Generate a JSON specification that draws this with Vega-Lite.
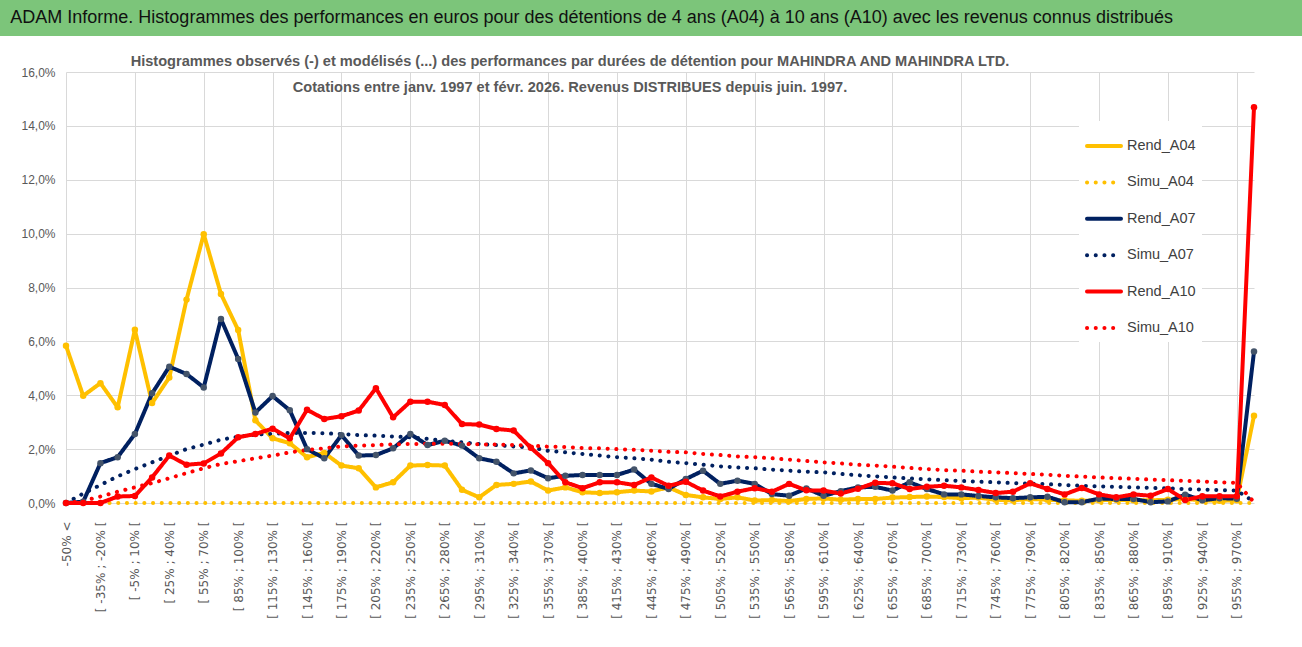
{
  "$schema": "https://vega.github.io/schema/vega-lite/v6.json",
  "padding": 0,
  "background": "white",
  "spacing": 18,
  "config": {
    "view": {"stroke": null},
    "font": "Liberation Sans",
    "legend": {
      "orient": "none",
      "legendX": 1079,
      "legendY": 121,
      "title": null,
      "fillColor": "white",
      "padding": 6,
      "symbolType": "stroke",
      "symbolSize": 1156,
      "symbolStrokeWidth": 4,
      "labelFontSize": 14.5,
      "labelColor": "#404040",
      "labelOffset": 4,
      "rowPadding": 9.4
    }
  },
  "vconcat": [
    {
      "width": 1302,
      "height": 36,
      "view": {"fill": "#7cc57a", "stroke": null},
      "data": {"values": [{"texte": "ADAM Informe. Histogrammes des performances en euros pour des détentions de 4 ans (A04) à 10 ans (A10) avec les revenus connus distribués", "pos": 0}]},
      "mark": {"type": "text", "align": "left", "baseline": "middle", "fontSize": 18, "color": "#111111"},
      "encoding": {
        "x": {"field": "pos", "type": "quantitative", "scale": {"domain": [-0.008, 1]}, "axis": null},
        "text": {"field": "texte"}
      }
    },
    {
      "width": 1302,
      "height": 431,
      "title": {
        "text": [
          "Histogrammes observés (-) et modélisés (...) des performances par durées de détention pour MAHINDRA AND MAHINDRA LTD.",
          "Cotations entre janv. 1997 et févr. 2026. Revenus DISTRIBUES depuis juin. 1997."
        ],
        "fontSize": 14.6,
        "fontWeight": "bold",
        "color": "#595959",
        "anchor": "middle",
        "dx": -81,
        "offset": -29,
        "lineHeight": 26
      },
      "data": {
        "values": [
          {"t": "-50% <", "Rend_A04": 5.84, "Simu_A04": 0, "Rend_A07": 0, "Simu_A07": 0, "Rend_A10": 0, "Simu_A10": 0},
          {"t": "[ -50% ; -35% [", "Rend_A04": 3.98, "Simu_A04": 0, "Rend_A07": 0.05, "Simu_A07": 0.35, "Rend_A10": 0, "Simu_A10": 0.08},
          {"t": "[ -35% ; -20% [", "Rend_A04": 4.45, "Simu_A04": 0, "Rend_A07": 1.48, "Simu_A07": 0.67, "Rend_A10": 0, "Simu_A10": 0.24},
          {"t": "[ -20% ; -5% [", "Rend_A04": 3.55, "Simu_A04": 0, "Rend_A07": 1.70, "Simu_A07": 0.99, "Rend_A10": 0.24, "Simu_A10": 0.42},
          {"t": "[ -5% ; 10% [", "Rend_A04": 6.43, "Simu_A04": 0, "Rend_A07": 2.56, "Simu_A07": 1.26, "Rend_A10": 0.26, "Simu_A10": 0.58},
          {"t": "[ 10% ; 25% [", "Rend_A04": 3.71, "Simu_A04": 0, "Rend_A07": 4.07, "Simu_A07": 1.51, "Rend_A10": 0.95, "Simu_A10": 0.74},
          {"t": "[ 25% ; 40% [", "Rend_A04": 4.66, "Simu_A04": 0, "Rend_A07": 5.06, "Simu_A07": 1.76, "Rend_A10": 1.76, "Simu_A10": 0.92},
          {"t": "[ 40% ; 55% [", "Rend_A04": 7.55, "Simu_A04": 0, "Rend_A07": 4.79, "Simu_A07": 2.00, "Rend_A10": 1.42, "Simu_A10": 1.11},
          {"t": "[ 55% ; 70% [", "Rend_A04": 9.98, "Simu_A04": 0, "Rend_A07": 4.29, "Simu_A07": 2.17, "Rend_A10": 1.47, "Simu_A10": 1.29},
          {"t": "[ 70% ; 85% [", "Rend_A04": 7.76, "Simu_A04": 0, "Rend_A07": 6.83, "Simu_A07": 2.35, "Rend_A10": 1.84, "Simu_A10": 1.45},
          {"t": "[ 85% ; 100% [", "Rend_A04": 6.42, "Simu_A04": 0, "Rend_A07": 5.35, "Simu_A07": 2.46, "Rend_A10": 2.44, "Simu_A10": 1.55},
          {"t": "[ 100% ; 115% [", "Rend_A04": 3.07, "Simu_A04": 0, "Rend_A07": 3.36, "Simu_A07": 2.54, "Rend_A10": 2.56, "Simu_A10": 1.66},
          {"t": "[ 115% ; 130% [", "Rend_A04": 2.40, "Simu_A04": 0, "Rend_A07": 3.97, "Simu_A07": 2.57, "Rend_A10": 2.76, "Simu_A10": 1.76},
          {"t": "[ 130% ; 145% [", "Rend_A04": 2.22, "Simu_A04": 0, "Rend_A07": 3.44, "Simu_A07": 2.60, "Rend_A10": 2.40, "Simu_A10": 1.88},
          {"t": "[ 145% ; 160% [", "Rend_A04": 1.70, "Simu_A04": 0, "Rend_A07": 2.00, "Simu_A07": 2.60, "Rend_A10": 3.46, "Simu_A10": 1.97},
          {"t": "[ 160% ; 175% [", "Rend_A04": 1.86, "Simu_A04": 0, "Rend_A07": 1.66, "Simu_A07": 2.59, "Rend_A10": 3.12, "Simu_A10": 2.03},
          {"t": "[ 175% ; 190% [", "Rend_A04": 1.39, "Simu_A04": 0, "Rend_A07": 2.52, "Simu_A07": 2.56, "Rend_A10": 3.22, "Simu_A10": 2.10},
          {"t": "[ 190% ; 205% [", "Rend_A04": 1.29, "Simu_A04": 0, "Rend_A07": 1.76, "Simu_A07": 2.52, "Rend_A10": 3.43, "Simu_A10": 2.13},
          {"t": "[ 205% ; 220% [", "Rend_A04": 0.58, "Simu_A04": 0, "Rend_A07": 1.78, "Simu_A07": 2.50, "Rend_A10": 4.26, "Simu_A10": 2.15},
          {"t": "[ 220% ; 235% [", "Rend_A04": 0.77, "Simu_A04": 0, "Rend_A07": 2.03, "Simu_A07": 2.47, "Rend_A10": 3.18, "Simu_A10": 2.18},
          {"t": "[ 235% ; 250% [", "Rend_A04": 1.39, "Simu_A04": 0, "Rend_A07": 2.56, "Simu_A07": 2.44, "Rend_A10": 3.76, "Simu_A10": 2.19},
          {"t": "[ 250% ; 265% [", "Rend_A04": 1.41, "Simu_A04": 0, "Rend_A07": 2.15, "Simu_A07": 2.38, "Rend_A10": 3.76, "Simu_A10": 2.20},
          {"t": "[ 265% ; 280% [", "Rend_A04": 1.39, "Simu_A04": 0, "Rend_A07": 2.31, "Simu_A07": 2.31, "Rend_A10": 3.64, "Simu_A10": 2.20},
          {"t": "[ 280% ; 295% [", "Rend_A04": 0.49, "Simu_A04": 0, "Rend_A07": 2.13, "Simu_A07": 2.25, "Rend_A10": 2.93, "Simu_A10": 2.19},
          {"t": "[ 295% ; 310% [", "Rend_A04": 0.21, "Simu_A04": 0, "Rend_A07": 1.66, "Simu_A07": 2.19, "Rend_A10": 2.91, "Simu_A10": 2.18},
          {"t": "[ 310% ; 325% [", "Rend_A04": 0.67, "Simu_A04": 0, "Rend_A07": 1.53, "Simu_A07": 2.15, "Rend_A10": 2.75, "Simu_A10": 2.17},
          {"t": "[ 325% ; 340% [", "Rend_A04": 0.71, "Simu_A04": 0, "Rend_A07": 1.10, "Simu_A07": 2.10, "Rend_A10": 2.69, "Simu_A10": 2.15},
          {"t": "[ 340% ; 355% [", "Rend_A04": 0.80, "Simu_A04": 0, "Rend_A07": 1.21, "Simu_A07": 2.06, "Rend_A10": 2.05, "Simu_A10": 2.13},
          {"t": "[ 355% ; 370% [", "Rend_A04": 0.46, "Simu_A04": 0, "Rend_A07": 0.92, "Simu_A07": 1.94, "Rend_A10": 1.48, "Simu_A10": 2.09},
          {"t": "[ 370% ; 385% [", "Rend_A04": 0.58, "Simu_A04": 0, "Rend_A07": 1.01, "Simu_A07": 1.88, "Rend_A10": 0.77, "Simu_A10": 2.08},
          {"t": "[ 385% ; 400% [", "Rend_A04": 0.40, "Simu_A04": 0, "Rend_A07": 1.04, "Simu_A07": 1.82, "Rend_A10": 0.55, "Simu_A10": 2.04},
          {"t": "[ 400% ; 415% [", "Rend_A04": 0.37, "Simu_A04": 0, "Rend_A07": 1.04, "Simu_A07": 1.76, "Rend_A10": 0.77, "Simu_A10": 2.03},
          {"t": "[ 415% ; 430% [", "Rend_A04": 0.40, "Simu_A04": 0, "Rend_A07": 1.04, "Simu_A07": 1.70, "Rend_A10": 0.77, "Simu_A10": 2.00},
          {"t": "[ 430% ; 445% [", "Rend_A04": 0.46, "Simu_A04": 0, "Rend_A07": 1.24, "Simu_A07": 1.66, "Rend_A10": 0.67, "Simu_A10": 1.98},
          {"t": "[ 445% ; 460% [", "Rend_A04": 0.43, "Simu_A04": 0, "Rend_A07": 0.71, "Simu_A07": 1.61, "Rend_A10": 0.95, "Simu_A10": 1.94},
          {"t": "[ 460% ; 475% [", "Rend_A04": 0.58, "Simu_A04": 0, "Rend_A07": 0.52, "Simu_A07": 1.53, "Rend_A10": 0.64, "Simu_A10": 1.90},
          {"t": "[ 475% ; 490% [", "Rend_A04": 0.30, "Simu_A04": 0, "Rend_A07": 0.89, "Simu_A07": 1.48, "Rend_A10": 0.79, "Simu_A10": 1.88},
          {"t": "[ 490% ; 505% [", "Rend_A04": 0.21, "Simu_A04": 0, "Rend_A07": 1.20, "Simu_A07": 1.42, "Rend_A10": 0.46, "Simu_A10": 1.82},
          {"t": "[ 505% ; 520% [", "Rend_A04": 0.15, "Simu_A04": 0, "Rend_A07": 0.71, "Simu_A07": 1.36, "Rend_A10": 0.24, "Simu_A10": 1.78},
          {"t": "[ 520% ; 535% [", "Rend_A04": 0.21, "Simu_A04": 0, "Rend_A07": 0.83, "Simu_A07": 1.32, "Rend_A10": 0.42, "Simu_A10": 1.73},
          {"t": "[ 535% ; 550% [", "Rend_A04": 0.09, "Simu_A04": 0, "Rend_A07": 0.71, "Simu_A07": 1.29, "Rend_A10": 0.55, "Simu_A10": 1.70},
          {"t": "[ 550% ; 565% [", "Rend_A04": 0.11, "Simu_A04": 0, "Rend_A07": 0.33, "Simu_A07": 1.24, "Rend_A10": 0.42, "Simu_A10": 1.66},
          {"t": "[ 565% ; 580% [", "Rend_A04": 0.07, "Simu_A04": 0, "Rend_A07": 0.27, "Simu_A07": 1.20, "Rend_A10": 0.71, "Simu_A10": 1.61},
          {"t": "[ 580% ; 595% [", "Rend_A04": 0.15, "Simu_A04": 0, "Rend_A07": 0.54, "Simu_A07": 1.16, "Rend_A10": 0.47, "Simu_A10": 1.56},
          {"t": "[ 595% ; 610% [", "Rend_A04": 0.17, "Simu_A04": 0, "Rend_A07": 0.27, "Simu_A07": 1.14, "Rend_A10": 0.46, "Simu_A10": 1.51},
          {"t": "[ 610% ; 625% [", "Rend_A04": 0.12, "Simu_A04": 0, "Rend_A07": 0.44, "Simu_A07": 1.08, "Rend_A10": 0.35, "Simu_A10": 1.47},
          {"t": "[ 625% ; 640% [", "Rend_A04": 0.15, "Simu_A04": 0, "Rend_A07": 0.58, "Simu_A07": 1.03, "Rend_A10": 0.53, "Simu_A10": 1.42},
          {"t": "[ 640% ; 655% [", "Rend_A04": 0.15, "Simu_A04": 0, "Rend_A07": 0.60, "Simu_A07": 0.99, "Rend_A10": 0.75, "Simu_A10": 1.39},
          {"t": "[ 655% ; 670% [", "Rend_A04": 0.20, "Simu_A04": 0, "Rend_A07": 0.46, "Simu_A07": 0.95, "Rend_A10": 0.73, "Simu_A10": 1.35},
          {"t": "[ 670% ; 685% [", "Rend_A04": 0.22, "Simu_A04": 0, "Rend_A07": 0.77, "Simu_A07": 0.91, "Rend_A10": 0.52, "Simu_A10": 1.30},
          {"t": "[ 685% ; 700% [", "Rend_A04": 0.24, "Simu_A04": 0, "Rend_A07": 0.52, "Simu_A07": 0.88, "Rend_A10": 0.60, "Simu_A10": 1.26},
          {"t": "[ 700% ; 715% [", "Rend_A04": 0.22, "Simu_A04": 0, "Rend_A07": 0.32, "Simu_A07": 0.85, "Rend_A10": 0.64, "Simu_A10": 1.22},
          {"t": "[ 715% ; 730% [", "Rend_A04": 0.18, "Simu_A04": 0, "Rend_A07": 0.32, "Simu_A07": 0.82, "Rend_A10": 0.58, "Simu_A10": 1.20},
          {"t": "[ 730% ; 745% [", "Rend_A04": 0.20, "Simu_A04": 0, "Rend_A07": 0.26, "Simu_A07": 0.79, "Rend_A10": 0.48, "Simu_A10": 1.16},
          {"t": "[ 745% ; 760% [", "Rend_A04": 0.12, "Simu_A04": 0, "Rend_A07": 0.21, "Simu_A07": 0.77, "Rend_A10": 0.37, "Simu_A10": 1.14},
          {"t": "[ 760% ; 775% [", "Rend_A04": 0.10, "Simu_A04": 0, "Rend_A07": 0.18, "Simu_A07": 0.74, "Rend_A10": 0.42, "Simu_A10": 1.11},
          {"t": "[ 775% ; 790% [", "Rend_A04": 0.15, "Simu_A04": 0, "Rend_A07": 0.21, "Simu_A07": 0.72, "Rend_A10": 0.73, "Simu_A10": 1.08},
          {"t": "[ 790% ; 805% [", "Rend_A04": 0.12, "Simu_A04": 0, "Rend_A07": 0.23, "Simu_A07": 0.70, "Rend_A10": 0.52, "Simu_A10": 1.05},
          {"t": "[ 805% ; 820% [", "Rend_A04": 0.10, "Simu_A04": 0, "Rend_A07": 0.03, "Simu_A07": 0.67, "Rend_A10": 0.32, "Simu_A10": 1.01},
          {"t": "[ 820% ; 835% [", "Rend_A04": 0.08, "Simu_A04": 0, "Rend_A07": 0.03, "Simu_A07": 0.64, "Rend_A10": 0.56, "Simu_A10": 0.98},
          {"t": "[ 835% ; 850% [", "Rend_A04": 0.10, "Simu_A04": 0, "Rend_A07": 0.16, "Simu_A07": 0.62, "Rend_A10": 0.32, "Simu_A10": 0.95},
          {"t": "[ 850% ; 865% [", "Rend_A04": 0.12, "Simu_A04": 0, "Rend_A07": 0.15, "Simu_A07": 0.60, "Rend_A10": 0.21, "Simu_A10": 0.92},
          {"t": "[ 865% ; 880% [", "Rend_A04": 0.10, "Simu_A04": 0, "Rend_A07": 0.15, "Simu_A07": 0.58, "Rend_A10": 0.32, "Simu_A10": 0.90},
          {"t": "[ 880% ; 895% [", "Rend_A04": 0.10, "Simu_A04": 0, "Rend_A07": 0.03, "Simu_A07": 0.56, "Rend_A10": 0.27, "Simu_A10": 0.87},
          {"t": "[ 895% ; 910% [", "Rend_A04": 0.12, "Simu_A04": 0, "Rend_A07": 0.06, "Simu_A07": 0.54, "Rend_A10": 0.52, "Simu_A10": 0.85},
          {"t": "[ 910% ; 925% [", "Rend_A04": 0.15, "Simu_A04": 0, "Rend_A07": 0.31, "Simu_A07": 0.52, "Rend_A10": 0.11, "Simu_A10": 0.82},
          {"t": "[ 925% ; 940% [", "Rend_A04": 0.10, "Simu_A04": 0, "Rend_A07": 0.10, "Simu_A07": 0.50, "Rend_A10": 0.25, "Simu_A10": 0.80},
          {"t": "[ 940% ; 955% [", "Rend_A04": 0.08, "Simu_A04": 0, "Rend_A07": 0.18, "Simu_A07": 0.48, "Rend_A10": 0.25, "Simu_A10": 0.77},
          {"t": "[ 955% ; 970% [", "Rend_A04": 0.10, "Simu_A04": 0, "Rend_A07": 0.16, "Simu_A07": 0.46, "Rend_A10": 0.25, "Simu_A10": 0.75},
          {"t": "970% >", "Rend_A04": 3.24, "Simu_A04": 0, "Rend_A07": 5.62, "Simu_A07": 0.05, "Rend_A10": 14.69, "Simu_A10": 0.03}
        ]
      },
      "transform": [
        {"fold": ["Rend_A04", "Simu_A04", "Rend_A07", "Simu_A07", "Rend_A10", "Simu_A10"], "as": ["serie", "valeur"]}
      ],
      "encoding": {
        "x": {
          "field": "t",
          "type": "nominal",
          "sort": null,
          "scale": {"type": "point", "padding": 0, "range": [66, 1254]},
          "axis": {
            "title": null,
            "values": ["-50% <", "[ -35% ; -20% [", "[ -5% ; 10% [", "[ 25% ; 40% [", "[ 55% ; 70% [", "[ 85% ; 100% [", "[ 115% ; 130% [", "[ 145% ; 160% [", "[ 175% ; 190% [", "[ 205% ; 220% [", "[ 235% ; 250% [", "[ 265% ; 280% [", "[ 295% ; 310% [", "[ 325% ; 340% [", "[ 355% ; 370% [", "[ 385% ; 400% [", "[ 415% ; 430% [", "[ 445% ; 460% [", "[ 475% ; 490% [", "[ 505% ; 520% [", "[ 535% ; 550% [", "[ 565% ; 580% [", "[ 595% ; 610% [", "[ 625% ; 640% [", "[ 655% ; 670% [", "[ 685% ; 700% [", "[ 715% ; 730% [", "[ 745% ; 760% [", "[ 775% ; 790% [", "[ 805% ; 820% [", "[ 835% ; 850% [", "[ 865% ; 880% [", "[ 895% ; 910% [", "[ 925% ; 940% [", "[ 955% ; 970% ["],
            "labelAngle": -90,
            "labelFont": "DejaVu Sans",
            "labelFontSize": 12,
            "labelColor": "#595959",
            "labelPadding": 18,
            "labelOverlap": false,
            "labelBound": false,
            "ticks": false,
            "domain": false,
            "grid": true,
            "gridColor": "#d9d9d9",
            "gridOpacity": {
              "condition": {"test": "datum.value == '-50% <' || (parseFloat(substring(datum.value, 2)) + 5) % 60 == 0", "value": 1},
              "value": 0
            }
          }
        },
        "y": {
          "field": "valeur",
          "type": "quantitative",
          "scale": {"domain": [0, 16]},
          "axis": {
            "title": null,
            "offset": -66,
            "values": [0, 2, 4, 6, 8, 10, 12, 14, 16],
            "labelExpr": "replace(format(datum.value, '.1f'), '.', ',') + '%'",
            "labelFontSize": 12,
            "labelColor": "#595959",
            "labelPadding": 11,
            "ticks": false,
            "domain": false,
            "gridColor": "#d9d9d9"
          }
        }
      },
      "layer": [
        {
          "mark": {"type": "line", "strokeWidth": 4, "strokeCap": "round", "strokeJoin": "round"},
          "encoding": {
            "stroke": {
              "field": "serie",
              "type": "nominal",
              "scale": {
                "domain": ["Rend_A04", "Simu_A04", "Rend_A07", "Simu_A07", "Rend_A10", "Simu_A10"],
                "range": ["#ffc000", "#ffc000", "#002060", "#002060", "#ff0000", "#ff0000"]
              },
              "legend": {"encoding": {"symbols": {"strokeCap": {"value": "round"}}}}
            },
            "strokeDash": {
              "field": "serie",
              "type": "nominal",
              "scale": {
                "domain": ["Rend_A04", "Simu_A04", "Rend_A07", "Simu_A07", "Rend_A10", "Simu_A10"],
                "range": [[1, 0], [0.1, 8.6], [1, 0], [0.1, 8.6], [1, 0], [0.1, 8.6]]
              },
              "legend": {"encoding": {"symbols": {"strokeCap": {"value": "round"}}}}
            }
          }
        },
        {
          "transform": [{"filter": "indexof(datum.serie, 'Rend') == 0"}],
          "mark": {"type": "point", "filled": true, "size": 42, "opacity": 1},
          "encoding": {
            "fill": {
              "field": "serie",
              "type": "nominal",
              "scale": {"domain": ["Rend_A04", "Rend_A07", "Rend_A10"], "range": ["#ffc000", "#44546a", "#ff0000"]},
              "legend": null
            }
          }
        }
      ]
    }
  ]
}
